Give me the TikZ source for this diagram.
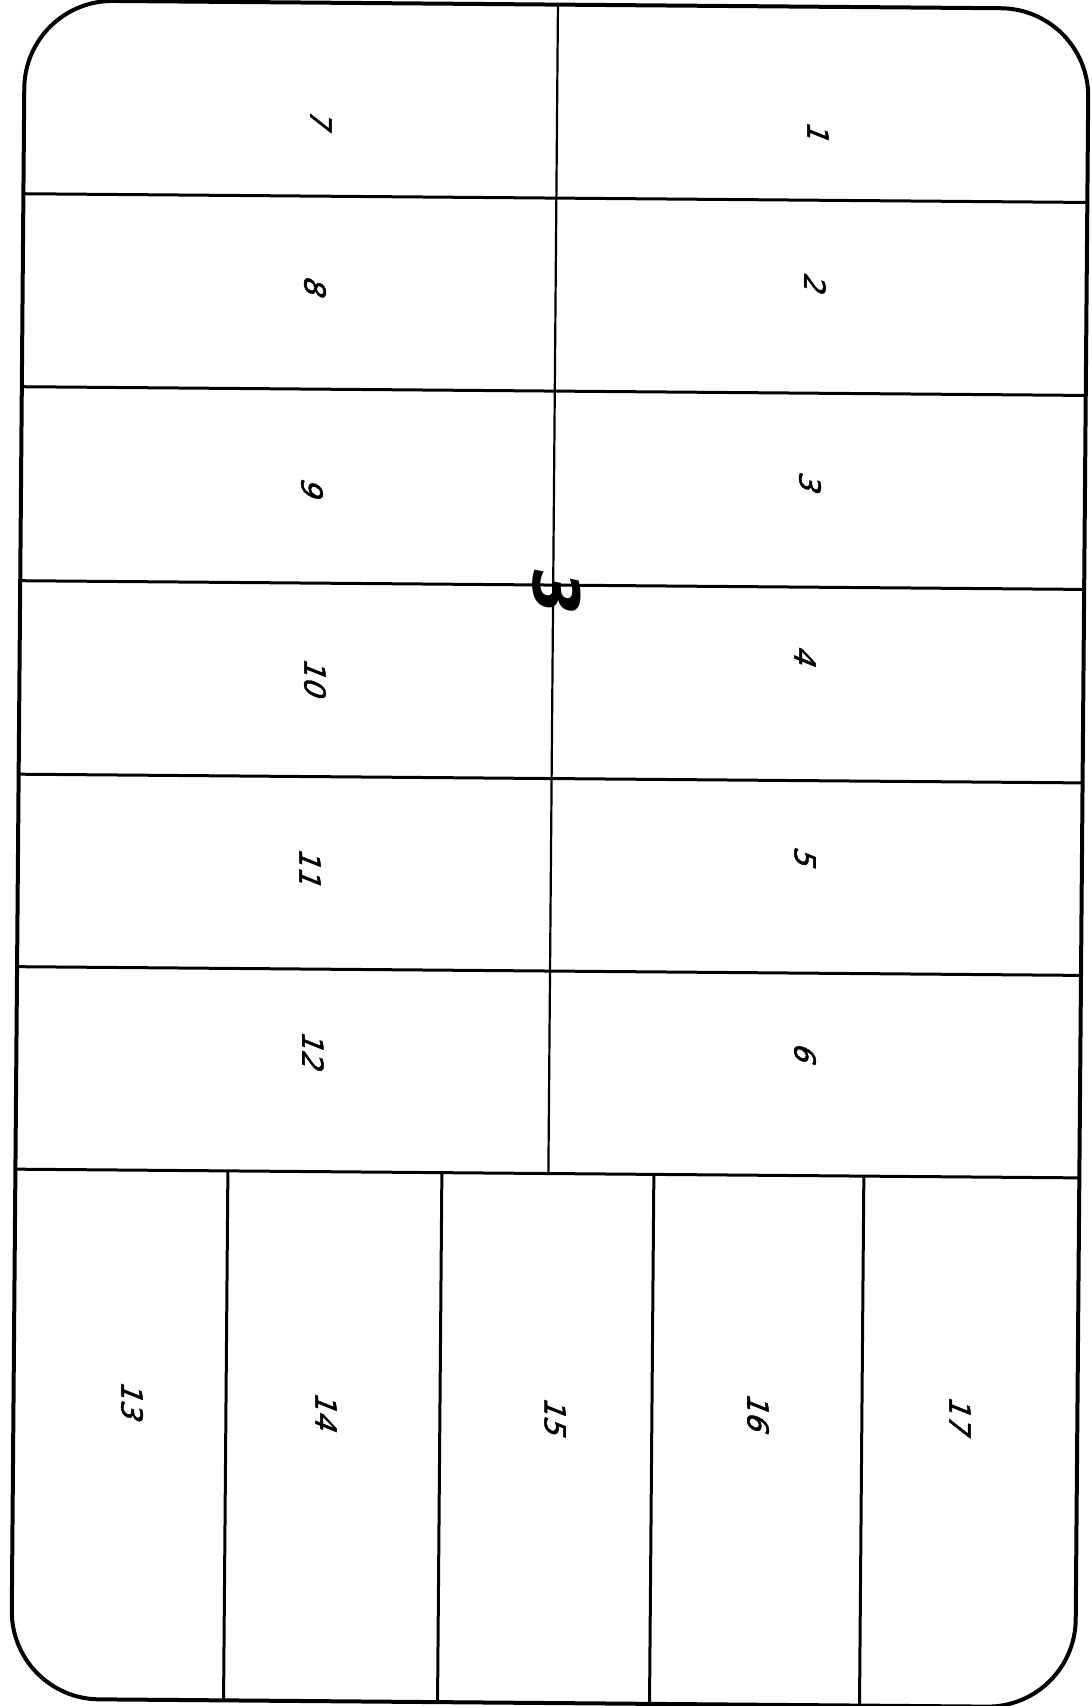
\documentclass[tikz,border=0pt]{standalone}
\usepackage{fontspec}
\newfontfamily\hand[FakeBold=1.5]{DejaVu Sans}
\newfontfamily\handbold{DejaVu Sans}
\begin{document}
\begin{tikzpicture}[x=1pt,y=-1pt,
  outline/.style={line width=4pt, rounded corners=88pt},
  divider/.style={line width=3pt},
  thindiv/.style={line width=2.2pt},
  lotno/.style={font=\hand\fontsize{29}{29}\selectfont, rotate=-90, xslant=0.4, inner sep=0pt},
  blockno/.style={font=\handbold\bfseries\fontsize{64}{64}\selectfont, rotate=-90, xslant=0.2, inner sep=0pt}]
\useasboundingbox (0,0) rectangle (1092,1706);
\fill[white] (0,0) rectangle (1092,1706);
\begin{scope}[rotate around={-0.47:(546,853)}]
  % outer boundary
  \draw[outline] (18,4.5) rectangle (1082,1703);
  % horizontal dividers
  \foreach \yy in {198,391,585,778.5,971,1173.5}
    \draw[divider] (18,\yy) -- (1082,\yy);
  % centre line of the upper block
  \draw[thindiv] (551,4.5) -- (551,1173.5);
  % verticals of the lower row
  \foreach \xx in {230.5,444.5,656.5,866.5}
    \draw[divider] (\xx,1173.5) -- (\xx,1703);
\end{scope}
% lot numbers
\node[lotno] (l7)  at (321,122)  {7};
\node[lotno] (l1)  at (818,134)  {1};
\node[lotno] (l8)  at (315,288)  {8};
\node[lotno] (l2)  at (815,285)  {2};
\node[lotno] (l9)  at (312,490)  {9};
\node[lotno] (l3)  at (810,484)  {3};
\node[lotno] (l10) at (315,680)  {10};
\node[lotno] (l4)  at (805,658)  {4};
\node[lotno] (l11) at (310,870)  {11};
\node[lotno] (l5)  at (805,859)  {5};
\node[lotno] (l12) at (313,1053) {12};
\node[lotno] (l6)  at (805,1055) {6};
\node[lotno] (l13) at (132,1403) {13};
\node[lotno] (l14) at (326,1414) {14};
\node[lotno] (l15) at (555,1419) {15};
\node[lotno] (l16) at (758,1415) {16};
\node[lotno] (l17) at (960,1418) {17};
% block number
\node[blockno] (blk) at (557,592) {3};
\end{tikzpicture}
\end{document}
